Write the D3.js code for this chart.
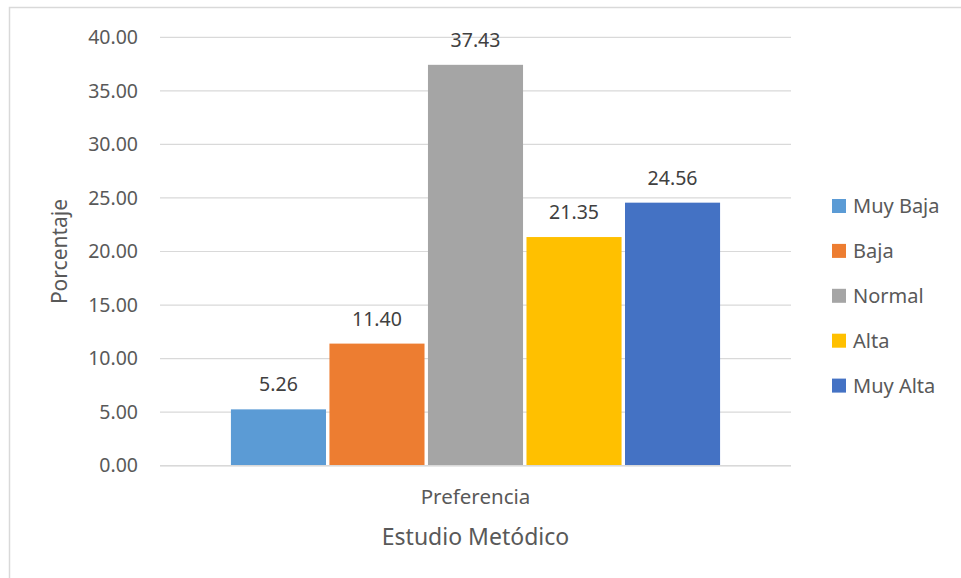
<!DOCTYPE html>
<html>
<head>
<meta charset="utf-8">
<script src="https://cdn.jsdelivr.net/npm/d3@7/dist/d3.min.js"></script>
<style>
  html, body { margin: 0; padding: 0; background: #ffffff; }
  svg { display: block; font-family: "Noto Sans", "Open Sans", sans-serif; }
</style>
</head>
<body>
<svg id="chart" width="961" height="578"></svg>
<script>
// Category on the x axis and the five rating levels
const categories = ["Preferencia"];
const seriesNames = ["Muy Baja", "Baja", "Normal", "Alta", "Muy Alta"];
const seriesValues = [5.26, 11.40, 37.43, 21.35, 24.56];
const seriesColors = ["#5b9bd5", "#ed7d31", "#a5a5a5", "#ffc000", "#4472c4"];
const yTicks = [0, 5, 10, 15, 20, 25, 30, 35, 40];

const svg = d3.select("#chart");
const textColor = "#595959";
const gridColor = "#d9d9d9";

// Chart frame
svg.append("rect")
  .attr("x", 9.5).attr("y", 7.5)
  .attr("width", 970).attr("height", 600)
  .attr("fill", "none")
  .attr("stroke", gridColor)
  .attr("stroke-width", 1.5);

const plot = { left: 160, right: 791, top: 37.3, bottom: 465.7 };

const y = d3.scaleLinear().domain([0, 40]).range([plot.bottom, plot.top]);

const x0 = d3.scaleBand()
  .domain(categories)
  .range([plot.left, plot.right])
  .paddingInner(0)
  .paddingOuter(0.145);

const x1 = d3.scaleBand()
  .domain(seriesNames)
  .range([0, x0.bandwidth()])
  .paddingInner(0.035)
  .paddingOuter(0);

// Gridlines
svg.append("g")
  .selectAll("line")
  .data(yTicks)
  .join("line")
  .attr("x1", plot.left).attr("x2", plot.right)
  .attr("y1", d => y(d)).attr("y2", d => y(d))
  .attr("stroke", gridColor)
  .attr("stroke-width", 1.2);

// Y axis labels
const yAxis = d3.axisLeft(y)
  .tickValues(yTicks)
  .tickFormat(d3.format(".2f"))
  .tickSize(0)
  .tickPadding(0);

svg.append("g")
  .attr("transform", `translate(${plot.left - 22},0)`)
  .call(yAxis)
  .call(g => g.select(".domain").remove())
  .call(g => g.selectAll("text")
    .attr("fill", textColor)
    .attr("font-size", 19.5)
    .attr("font-family", "Noto Sans, Open Sans, sans-serif"));

// Bars
const rows = seriesNames.map((name, i) => ({ name, value: seriesValues[i], color: seriesColors[i], cat: categories[0] }));

svg.append("g")
  .selectAll("rect")
  .data(rows)
  .join("rect")
  .attr("x", d => x0(d.cat) + x1(d.name))
  .attr("y", d => y(d.value))
  .attr("width", x1.bandwidth())
  .attr("height", d => y(0) - y(d.value))
  .attr("fill", d => d.color);

// Value labels
svg.append("g")
  .selectAll("text")
  .data(rows)
  .join("text")
  .attr("x", d => x0(d.cat) + x1(d.name) + x1.bandwidth() / 2)
  .attr("y", d => y(d.value) - 18)
  .attr("text-anchor", "middle")
  .attr("fill", "#404040")
  .attr("font-size", 19.5)
  .text(d => d3.format(".2f")(d.value));

// X axis baseline
svg.append("line")
  .attr("x1", plot.left).attr("x2", plot.right)
  .attr("y1", y(0)).attr("y2", y(0))
  .attr("stroke", gridColor)
  .attr("stroke-width", 1.5);

// Category label
svg.append("g")
  .selectAll("text")
  .data(categories)
  .join("text")
  .attr("x", d => x0(d) + x0.bandwidth() / 2)
  .attr("y", 504)
  .attr("text-anchor", "middle")
  .attr("fill", textColor)
  .attr("font-size", 20.5)
  .text(d => d);

// Axis titles
svg.append("text")
  .attr("x", (plot.left + plot.right) / 2)
  .attr("y", 545)
  .attr("text-anchor", "middle")
  .attr("fill", textColor)
  .attr("font-size", 23)
  .text("Estudio Metódico");

svg.append("text")
  .attr("transform", `translate(67,${(plot.top + plot.bottom) / 2}) rotate(-90)`)
  .attr("text-anchor", "middle")
  .attr("fill", textColor)
  .attr("font-size", 21)
  .text("Porcentaje");

// Legend
const legend = svg.append("g")
  .selectAll("g")
  .data(rows)
  .join("g")
  .attr("transform", (d, i) => `translate(832,${206 + i * 44.9})`);

legend.append("rect")
  .attr("x", 0).attr("y", -7)
  .attr("width", 14).attr("height", 14)
  .attr("fill", d => d.color);

legend.append("text")
  .attr("x", 21)
  .attr("y", 0)
  .attr("dy", "0.35em")
  .attr("fill", textColor)
  .attr("font-size", 20)
  .text(d => d.name);
</script>
</body>
</html>
